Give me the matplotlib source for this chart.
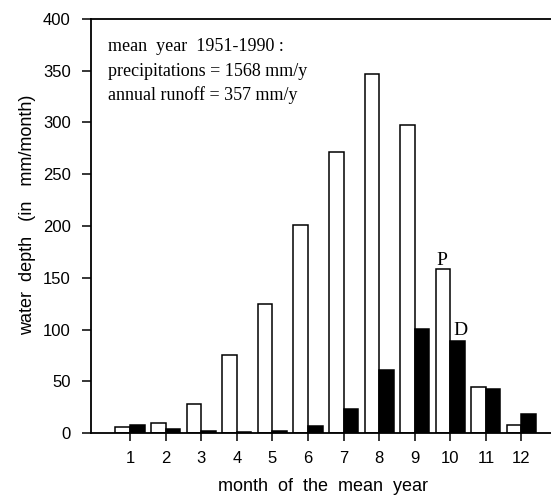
#Monthly precipitation (P) and runoff depth (D) for the mean year
import matplotlib
matplotlib.use("Agg")
import matplotlib.pyplot as plt
import numpy as np

months = [1, 2, 3, 4, 5, 6, 7, 8, 9, 10, 11, 12]
precip = [6, 10, 28, 75, 125, 201, 271, 347, 297, 158, 45, 8]
runoff = [8, 3.5, 2.5, 1.3, 2.3, 6.7, 23, 61, 101, 88.5, 43, 18]
yticks = [0, 50, 100, 150, 200, 250, 300, 350, 400]

fig = plt.figure(figsize=(5.51, 4.95), dpi=100)
ax = fig.add_axes([0.165, 0.125, 0.835, 0.837])

x = np.array(months)
w = 0.41
ax.bar(x - w/2, precip, w, color="white", edgecolor="black", linewidth=1.1)
ax.bar(x + w/2, runoff, w, color="black", edgecolor="black", linewidth=1.1)

ax.set_xlim(-0.1, 12.83)
ax.set_ylim(0, 400)
ax.set_xticks(months)
ax.set_yticks(yticks)
ax.spines["right"].set_visible(False)
for s in ["left", "bottom", "top"]:
    ax.spines[s].set_linewidth(1.3)
ax.tick_params(axis="y", direction="out", length=6.5, width=1.1, pad=8)
ax.tick_params(axis="x", direction="out", length=6, width=1.1, pad=7)
for lab in ax.get_xticklabels() + ax.get_yticklabels():
    lab.set_fontfamily("Liberation Sans")
    lab.set_fontsize(12)

ax.set_ylabel("water  depth   (in   mm/month)", fontfamily="Liberation Sans",
              fontsize=13)
ax.yaxis.set_label_coords(-0.12, 0.527)
ax.set_xlabel("month  of  the  mean  year", fontfamily="Liberation Sans",
              fontsize=13)
ax.xaxis.set_label_coords(0.505, -0.108)

serif = "Liberation Serif"
ax.text(0.037, 0.923, "mean  year  1951-1990 :", transform=ax.transAxes,
        fontfamily=serif, fontsize=13, va="baseline")
ax.text(0.037, 0.861, "precipitations = 1568 mm/y", transform=ax.transAxes,
        fontfamily=serif, fontsize=13, va="baseline")
ax.text(0.037, 0.805, "annual runoff = 357 mm/y", transform=ax.transAxes,
        fontfamily=serif, fontsize=13, va="baseline")
ax.text(10 - w/2 - 0.03, precip[9] + 4, "P", ha="center", va="baseline",
        fontfamily=serif, fontsize=14)
ax.text(10 + w/2 + 0.08, runoff[9] + 6, "D", ha="center", va="baseline",
        fontfamily=serif, fontsize=14)

fig.savefig("out.png", dpi=100)
